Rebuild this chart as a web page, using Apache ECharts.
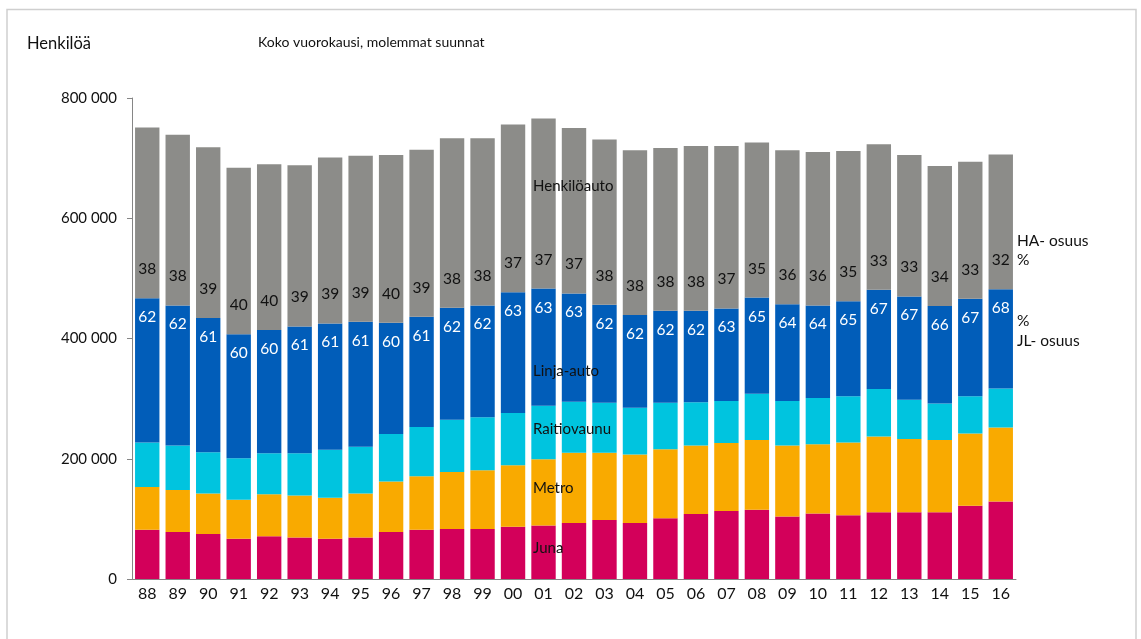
<!DOCTYPE html>
<html>
<head>
<meta charset="utf-8">
<script src="https://cdn.jsdelivr.net/npm/echarts@6/dist/echarts.min.js"></script>
<style>
  html, body { margin: 0; padding: 0; background: #fff; }
  #chart { width: 1141px; height: 639px; }
</style>
</head>
<body>
<div id="chart"></div>
<script>
// vuodet 1988-2016
const years = ['88', '89', '90', '91', '92', '93', '94', '95', '96', '97', '98', '99', '00', '01',
  '02', '03', '04', '05', '06', '07', '08', '09', '10', '11', '12', '13', '14', '15', '16'];

const juna = [82000, 78000, 75000, 67000, 71000, 69000, 67000, 69000, 78000, 82000, 83000, 83000, 87000, 89000,
  93000, 98000, 93000, 101000, 108000, 113000, 115000, 104000, 109000, 106000, 111000, 111000, 111000, 122000, 129000];
const metro = [71000, 70000, 67000, 65000, 70000, 70000, 68000, 73000, 84000, 89000, 95000, 98000, 102000, 110000,
  117000, 112000, 114000, 115000, 114000, 113000, 116000, 118000, 115000, 121000, 126000, 122000, 120000, 120000, 123000];
const raitiovaunu = [74000, 74000, 69000, 69000, 68000, 70000, 80000, 78000, 79000, 82000, 87000, 88000, 87000, 89000,
  85000, 83000, 78000, 77000, 72000, 70000, 77000, 74000, 77000, 77000, 79000, 65000, 61000, 62000, 65000];
const linjaAuto = [240000, 233000, 223000, 206000, 205000, 211000, 210000, 208000, 185000, 183000, 186000, 186000, 201000, 195000,
  180000, 163000, 154000, 153000, 152000, 154000, 160000, 161000, 154000, 158000, 165000, 172000, 162000, 162000, 165000];
const henkiloauto = [284000, 284000, 284000, 277000, 276000, 268000, 276000, 276000, 279000, 278000, 282000, 278000, 279000, 283000,
  275000, 275000, 274000, 271000, 274000, 270000, 258000, 256000, 255000, 250000, 242000, 235000, 233000, 228000, 224000];

// osuudet (%) kuvan tekstien mukaan
const jlShare = [62, 62, 61, 60, 60, 61, 61, 61, 60, 61, 62, 62, 63, 63, 63, 62, 62, 62, 62, 63, 65, 64, 64, 65, 67, 67, 66, 67, 68];
const haShare = [38, 38, 39, 40, 40, 39, 39, 39, 40, 39, 38, 38, 37, 37, 37, 38, 38, 38, 38, 37, 35, 36, 36, 35, 33, 33, 34, 33, 32];

const yTicks = [0, 200000, 400000, 600000, 800000];

const FONT = 'Lato, "Open Sans", sans-serif';
const nameYear = '01';

const layers = [
  { name: 'Juna', data: juna, color: '#d3005a', at: 0.58 },
  { name: 'Metro', data: metro, color: '#f9aa00', at: 0.56 },
  { name: 'Raitiovaunu', data: raitiovaunu, color: '#00c4df', at: 0.56 },
  { name: 'Linja-auto', data: linjaAuto, color: '#015db9', at: 0.3 },
  { name: 'Henkilöauto', data: henkiloauto, color: '#8c8c89', at: 0.6 },
];

const nameIdx = years.indexOf(nameYear);
let base = 0;
const series = layers.map((l) => {
  const y = base + l.data[nameIdx] * l.at;
  base += l.data[nameIdx];
  const s = {
    name: l.name,
    type: 'bar',
    stack: 'total',
    data: l.data,
    barCategoryGap: '20%',
    itemStyle: { color: l.color },
    emphasis: { disabled: true },
    markPoint: {
      symbol: 'rect',
      symbolSize: 1,
      itemStyle: { color: 'rgba(0,0,0,0)' },
      label: {
        show: true,
        position: 'right',
        distance: 0,
        offset: [-11, 0],
        formatter: l.name,
        color: '#111',
        fontSize: 15,
        fontFamily: FONT,
      },
      data: [{ coord: [nameIdx, y] }],
    },
  };
  if (l.name === 'Linja-auto') {
    s.label = {
      show: true,
      position: 'insideTop',
      distance: 11,
      color: '#ffffff',
      fontSize: 15.5,
      fontFamily: FONT,
      formatter: (p) => String(jlShare[p.dataIndex]),
    };
  }
  if (l.name === 'Henkilöauto') {
    s.label = {
      show: true,
      position: 'insideBottom',
      distance: 21,
      color: '#111',
      fontSize: 15.5,
      fontFamily: FONT,
      formatter: (p) => String(haShare[p.dataIndex]),
    };
  }
  return s;
});

const txt = (left, top, text, size) => ({
  type: 'text',
  left: left,
  top: top,
  style: { text: text, fill: '#111', font: (size || 15.5) + 'px ' + FONT },
});

const chart = echarts.init(document.getElementById('chart'));
chart.setOption({
  animation: false,
  grid: { left: 132, right: 125, top: 98, bottom: 60 },
  xAxis: {
    type: 'category',
    data: years,
    axisLine: { lineStyle: { color: '#868686' } },
    axisTick: { length: 5, lineStyle: { color: '#868686' } },
    axisLabel: { color: '#111', fontSize: 16, fontFamily: FONT, margin: 7 },
  },
  yAxis: {
    type: 'value',
    min: 0,
    max: yTicks[yTicks.length - 1],
    interval: yTicks[1] - yTicks[0],
    axisLine: { show: true, lineStyle: { color: '#868686' } },
    axisTick: { show: true, length: 5, lineStyle: { color: '#868686' } },
    splitLine: { show: false },
    axisLabel: {
      color: '#111',
      fontSize: 15,
      fontFamily: FONT,
      margin: 15,
      formatter: (v) => String(v).replace(/\B(?=(\d{3})+(?!\d))/g, ' '),
    },
  },
  series: series,
  graphic: [
    {
      type: 'rect',
      shape: { x: 7, y: 9.5, width: 1129, height: 700 },
      style: { fill: 'none', stroke: '#cfcfcf', lineWidth: 1.5 },
      silent: true,
    },
    txt(27, 35, 'Henkilöä', 16.5),
    txt(258, 35, 'Koko vuorokausi, molemmat suunnat', 14),
    txt(1017, 233, 'HA- osuus'),
    txt(1017, 252, '%'),
    txt(1017, 313, '%'),
    txt(1017, 333, 'JL- osuus'),
  ],
});
</script>
</body>
</html>
